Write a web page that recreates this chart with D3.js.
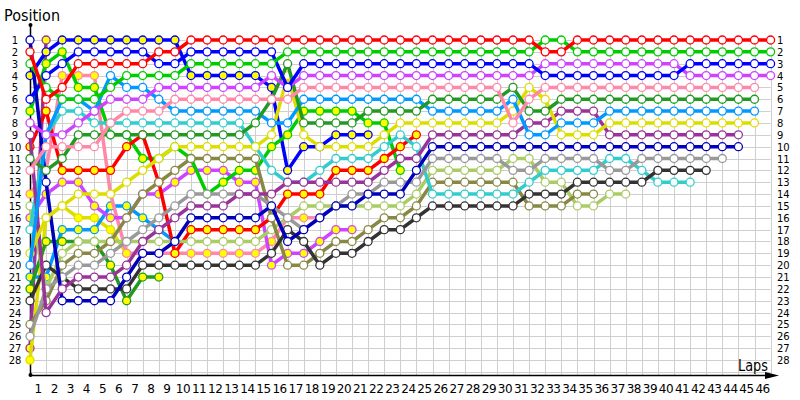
<!DOCTYPE html>
<meta charset="utf-8">
<title>Lap chart</title>
<style>
body { margin: 0; background: #fff; }
svg { display: block; font-family: "DejaVu Sans", Verdana, sans-serif; }
</style>
<body>
<script src="https://cdn.jsdelivr.net/npm/d3@7"></script>
<script>
// positions per lap, index 0 = start grid
var redA = [2,6,5,3,3,3,3,3,2,2, 1,1,1,1,1,1,1,1,1,1,1,1,1,1,1,1,1,1,1,1,1,1, 2,2, 1,1,1,1,1,1,1,1,1,1,1,1,1];
var greenA = [3,5,6,6,6,5,4,4,4,4, 3,3,3,3,3,3, 2,2,2,2,2,2,2,2,2,2,2,2,2,2,2,2, 1,1, 2,2,2,2,2,2,2,2,2,2,2,2,2];
var blueA = [6,4,3,2,2,2,2,2,3,3, 2,2,2,2,2,2, 5, 3,3,3,3,3,3,3,3,3,3,3,3,3,3,3, 4,4,4,4,4,4,4,4,4, 3,3,3,3,3,3];
var violetA = [8,9,9,8,7,6,6,6,5,5, 5,5,5,5,5, 4, 5, 4,4,4,4,4,4,4,4,4,4,4,4,4,4,4, 3,3,3,3,3,3,3,3,3, 4,4,4,4,4,4];
var pinkA = [12,10,10,10,10,8,7,7,7,6, 6,6,6,6,6, 6,6, 5,5,5,5,5,5,5,5,5,5,5,5,5, 8,6, 5,5,5,5,5,5,5,5,5,5,5,5,5,5];
var dkgreenA = [11,12,11,9,9,9,9,9,9,9, 9,9,9,9, 8, 6, 3, 8,8,8,8, 7,7,7,7, 6,6,6,6,6, 5, 7,7, 6,6,6,6,6,6,6,6,6,6,6,6,6];
var lightblueA = [20,9,6,6,7,4,5,5,6,7, 7,7,7,7,7, 8,8, 6,6,6,6,6,6,6,6, 7,7,7,7,7, 6, 9,9,8,8,8, 7,7,7,7,7,7,7,7,7,7];
var yellowA = [19,16,15,14,14,14,13,12,11,10, 10,10,10,10,10, 9, 4, 9,10,10,10,10, 9, 8,8,8,8,8,8,8, 7, 5, 6, 9,9,9, 8,8,8,8,8,8,8,8,8,8];
var purpleA = [9,24,22,21,21,21,20,18,17,16, 15,15,15,14,14, 14,13,13,13,13,13,13, 12, 11,11, 9,9,9,9,9,9, 8,8, 7,7,7, 9,9,9,9,9,9,9,9,9];
var dkblueA = [1,13,23,23,23,23,21,19,19,18, 16,16,16,16,16, 15,18,17,16,15,15,14,14,14,12, 10,10,10,10,10,10,10,10,10,10,10,10,10,10,10,10,10,10,10,10];
var grayA = [26,22,21,20,20,19,18,17,16,15, 14,14,14,14,14, 15,16,17,16,15,14,14,13,13,13, 11,11,11,11,11, 12,12, 11,11,11,11, 12,12, 11,11,11,11,11,11];
var blackA = [23,20,21,22,22,22,22,20,20,20, 20,20,20,20,20, 19,17,18,20,19,19,18,17,17,16, 15,15,15,15,15,15, 14,14,14, 13,13,13,13,13, 12,12,12,12];
var turquoiseA = [17,9,7,7,8,8,8,8,8,8, 8,8,8,8, 10,12,13,13,12,11,11,11,10,9,10, 14,14,14,14,14,14, 13, 12,12,12,12, 11,11, 12, 13,13,13];
var oliveA = [25,23,20,19,19,18,16,14,13,12, 11,11,11,11,11, 16,20,20,19,18,18,17,16,16,15, 13,13,13,13,13,13, 15,15,15, 14,14];
var lightgreenA = [15,22,19,18,18,18,18,18,18,18, 18,18,18,18,18, 17,16,15,15,15,15,15,15,15,14, 12,12,12,12,12, 11,11, 13,13, 15,15, 14,14];
var redB = [10,7,12,12,12,12,10,9,13,19, 17,17,17,17,17, 16,14,14,14,12,12,12,11,10,9];
var greenB = [7,3,2,5,5,9,9,11,11,10, 11,14,13,12,12,10,9,7,7,7,7,8,8,12];
var blueB = [4,2,1,1,1,1,1,1,1,1, 4,4,4,4,4, 5, 12, 10,10, 9,9,9];
var violetB = [16,14,13,13,15,16,16,14,14,13, 12,12,12,13,13, 20,19,19,18,17,17];
var pinkB = [14,12,4,4,4,14,19,19,19,19, 19,19,19,19,19, 18,16,16,16];
var dkgreenB = [22,18,18,18,18,20,23,21,21];
var lightblueB = [21,21,17,17,17,15,15,16,17,18];
var yellowB = [28,16,15,16,16,17,19];
var purpleB = [27,1];

var series = [
  {pos: redA, color: "#ff0000", fill: "#fff"},
  {pos: greenA, color: "#00cc00", fill: "#fff"},
  {pos: blueA, color: "#0000ff", fill: "#fff"},
  {pos: violetA, color: "#cc44ff", fill: "#fff"},
  {pos: pinkA, color: "#ff88aa", fill: "#fff"},
  {pos: dkgreenA, color: "#229922", fill: "#fff"},
  {pos: lightblueA, color: "#0099ff", fill: "#fff"},
  {pos: yellowA, color: "#dddd00", fill: "#fff"},
  {pos: purpleA, color: "#993399", fill: "#fff"},
  {pos: dkblueA, color: "#0000bb", fill: "#fff"},
  {pos: grayA, color: "#999999", fill: "#fff"},
  {pos: blackA, color: "#333333", fill: "#fff"},
  {pos: turquoiseA, color: "#33cccc", fill: "#fff"},
  {pos: oliveA, color: "#888844", fill: "#fff"},
  {pos: lightgreenA, color: "#aacc66", fill: "#fff"},
  {pos: redB, color: "#ff0000", fill: "#ffff00"},
  {pos: greenB, color: "#00cc00", fill: "#ffff00"},
  {pos: blueB, color: "#0000ff", fill: "#ffff00"},
  {pos: violetB, color: "#cc44ff", fill: "#ffff00"},
  {pos: pinkB, color: "#ff88aa", fill: "#ffff00"},
  {pos: dkgreenB, color: "#229922", fill: "#ffff00"},
  {pos: lightblueB, color: "#0099ff", fill: "#ffff00"},
  {pos: yellowB, color: "#dddd00", fill: "#ffff00"},
  {pos: purpleB, color: "#993399", fill: "#ffff00"}
];

var nLaps = 46, nPos = 28;
var laps = d3.range(0, nLaps + 1);
var positions = d3.range(1, nPos + 1);

var svg = d3.select("body").append("svg")
    .attr("width", 800)
    .attr("height", 400);

var x = d3.scaleLinear().domain([0, nLaps]).range([30, 770.6]);
var y = d3.scaleLinear().domain([1, nPos]).range([40, 360]);
var bottom = 375;

// grid
var grid = svg.append("g").attr("stroke", "#cfcfcf").attr("stroke-width", 1);
grid.selectAll("line.v").data(laps.slice(1)).enter().append("line")
    .attr("x1", d => Math.round(x(d)) + 0.5).attr("x2", d => Math.round(x(d)) + 0.5)
    .attr("y1", y(1)).attr("y2", bottom);
grid.selectAll("line.h").data(positions.concat([nPos + 1])).enter().append("line")
    .attr("x1", 30).attr("x2", x(nLaps))
    .attr("y1", d => Math.round(y(d)) + 0.5).attr("y2", d => Math.round(y(d)) + 0.5);

// axes
svg.append("line").attr("x1", 30.5).attr("x2", 30.5).attr("y1", 25).attr("y2", bottom)
    .attr("stroke", "#000").attr("stroke-width", 1.5);
svg.append("line").attr("x1", 30).attr("x2", 772).attr("y1", bottom + 0.5).attr("y2", bottom + 0.5)
    .attr("stroke", "#000").attr("stroke-width", 1.5);
svg.append("circle").attr("cx", 30.5).attr("cy", 25).attr("r", 2).attr("fill", "#000");
svg.append("circle").attr("cx", 30.5).attr("cy", bottom).attr("r", 2).attr("fill", "#000");
svg.append("path").attr("d", "M765,372 L779,375.5 L765,379 Z").attr("fill", "#000");

// labels
svg.append("text").attr("x", 4).attr("y", 21).attr("font-size", 16)
    .attr("textLength", 56).attr("lengthAdjust", "spacingAndGlyphs").text("Position");
svg.append("text").attr("x", 738).attr("y", 371).attr("font-size", 15)
    .attr("textLength", 30).attr("lengthAdjust", "spacingAndGlyphs").text("Laps");

svg.selectAll("text.yl").data(positions).enter().append("text")
    .attr("x", 15).attr("y", d => y(d) + 4)
    .attr("text-anchor", "middle").attr("font-size", 10).text(d => d);
svg.selectAll("text.yr").data(positions).enter().append("text")
    .attr("x", 777).attr("y", d => y(d) + 4)
    .attr("font-size", 10).text(d => d);
svg.selectAll("text.xl").data(laps.slice(1)).enter().append("text")
    .attr("x", d => x(d) - 8).attr("y", 393)
    .attr("text-anchor", "middle").attr("font-size", 12).attr("letter-spacing", -0.5).text(d => d);

// drivers, leaders drawn last so they sit on top
var line = d3.line().defined(d => d != null).x((d, i) => x(i)).y(d => y(d));
var order = series.slice().reverse();
var g = svg.selectAll("g.driver").data(order).enter().append("g");
g.append("path")
    .attr("d", d => line(d.pos))
    .attr("fill", "none")
    .attr("stroke", d => d.color)
    .attr("stroke-width", 3.5)
    .attr("stroke-linejoin", "round");
g.each(function (s) {
  d3.select(this).selectAll("circle").data(s.pos).enter().append("circle")
      .attr("cx", (d, i) => x(i))
      .attr("cy", d => y(d))
      .attr("r", 4)
      .attr("fill", s.fill)
      .attr("stroke", s.color)
      .attr("stroke-width", 1.3);
});
</script>
